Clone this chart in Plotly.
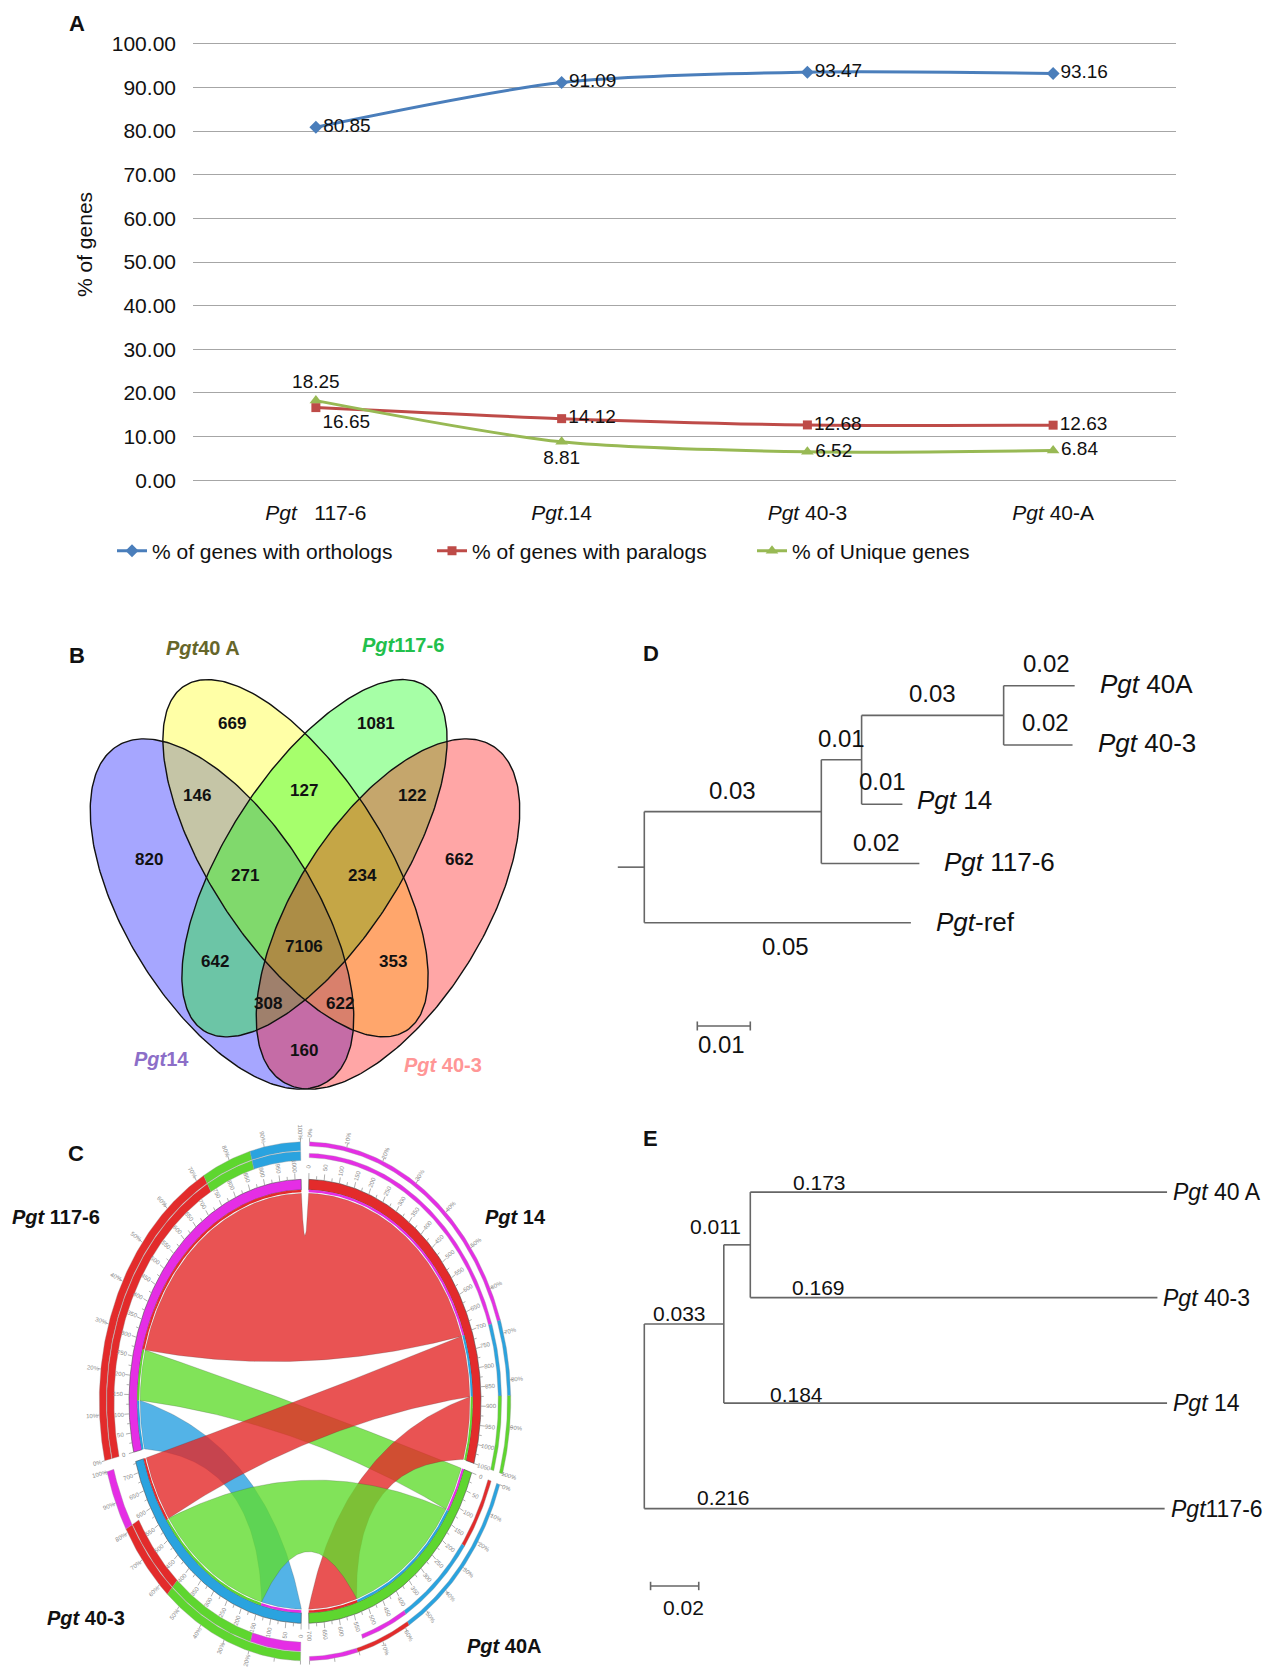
import numpy as np
import plotly.graph_objects as go

W, H = 1276, 1673
FONT = "Liberation Sans, Arial, sans-serif"
NARROW = "Liberation Sans Narrow, Liberation Sans, Arial, sans-serif"


def fx(p):
    return p / W


def fy(p):
    return 1 - p / H


# ===================== DATA =====================
# Panel A
strains_A = ["Pgt 117-6", "Pgt 14", "Pgt 40-3", "Pgt 40-A"]
strain_labels_A = ["<i>Pgt</i>&nbsp;&nbsp; 117-6", "<i>Pgt</i>.14", "<i>Pgt</i> 40-3", "<i>Pgt</i> 40-A"]
pct_orthologs = [80.85, 91.09, 93.47, 93.16]
pct_paralogs = [16.65, 14.12, 12.68, 12.63]
pct_unique = [18.25, 8.81, 6.52, 6.84]
series_names_A = ["% of genes with orthologs", "% of genes with paralogs", "% of Unique genes"]
y_ticks_A = [0, 10, 20, 30, 40, 50, 60, 70, 80, 90, 100]

# Panel B (Venn)
venn_set_labels = ["<b><i>Pgt</i>14</b>", "<b><i>Pgt</i>40 A</b>", "<b><i>Pgt</i>117-6</b>", "<b><i>Pgt</i> 40-3</b>"]
venn_regions = ["14", "40A", "117-6", "40-3", "14&40A", "40A&117-6", "117-6&40-3",
                "14&40A&117-6", "40A&117-6&40-3", "all", "14&117-6", "40A&40-3",
                "14&117-6&40-3", "14&40A&40-3", "14&40-3"]
venn_counts = [820, 669, 1081, 662, 146, 127, 122, 271, 234, 7106, 642, 353, 308, 622, 160]

# Panel C (chord): link widths (deg of arc) listed clockwise inside each segment
chord_order = ["Pgt 14", "Pgt 40A", "Pgt 40-3", "Pgt 117-6"]
c14_partners = ["Pgt 117-6", "Pgt 40-3", "Pgt 40A"]
c14_sizes = [70.5, 17.0, 17.5]
c40A_partners = ["Pgt 117-6", "Pgt 40-3", "Pgt 14"]
c40A_sizes = [12.5, 40.5, 17.0]
c403_partners = ["Pgt 117-6", "Pgt 40A", "Pgt 14"]
c403_sizes = [14.0, 40.5, 18.5]
c1176_partners = ["Pgt 40-3", "Pgt 40A", "Pgt 14"]
c1176_sizes = [13.5, 14.0, 74.5]
# outer summary rings (partner, share in deg) clockwise
ring_out_14 = (["Pgt 117-6", "Pgt 40-3", "Pgt 40A"], [70.5, 17.0, 17.5])
ring_in_14 = (["Pgt 117-6", "Pgt 40-3", "Pgt 40A"], [70.5, 17.0, 17.5])
ring_out_40A = (["Pgt 40-3", "Pgt 14", "Pgt 117-6"], [40.85, 15.6, 13.55])
ring_in_40A = (["Pgt 14", "Pgt 40-3", "Pgt 117-6", None], [17.0, 23.4, 13.85, 15.75])
ring_out_403 = (["Pgt 40A", "Pgt 14", "Pgt 117-6"], [40.75, 18.5, 13.75])
ring_in_403 = (["Pgt 117-6", "Pgt 40A", "Pgt 14", None], [14.75, 26.0, 18.5, 13.75])
ring_out_1176 = (["Pgt 14", "Pgt 40A", "Pgt 40-3"], [73.75, 14.0, 14.25])
ring_in_1176 = (["Pgt 14", "Pgt 40A", "Pgt 40-3"], [73.75, 14.0, 14.25])

# Panel D tree
treeD_parent = ["root", "n1", "n2", "n3", "n3", "n2", "n1", "root"]
treeD_child = ["n1", "n2", "n3", "Pgt 40A", "Pgt 40-3", "Pgt 14", "Pgt 117-6", "Pgt-ref"]
treeD_length = [0.0334, 0.0076, 0.0268, 0.0134, 0.0130, 0.0077, 0.0185, 0.0503]
treeD_label = ["0.03", "0.01", "0.03", "0.02", "0.02", "0.01", "0.02", "0.05"]
treeD_tips = ["Pgt 40A", "Pgt 40-3", "Pgt 14", "Pgt 117-6", "Pgt-ref"]
treeD_tiptext = ["<i>Pgt</i> 40A", "<i>Pgt</i> 40-3", "<i>Pgt</i> 14", "<i>Pgt</i> 117-6", "<i>Pgt</i>-ref"]

# Panel E tree
treeE_parent = ["root", "n1", "n2", "n2", "n1", "root"]
treeE_child = ["n1", "n2", "Pgt 40 A", "Pgt 40-3", "Pgt 14", "Pgt117-6"]
treeE_length = [0.033, 0.011, 0.173, 0.169, 0.184, 0.216]
treeE_tips = ["Pgt 40 A", "Pgt 40-3", "Pgt 14", "Pgt117-6"]
treeE_tiptext = ["<i>Pgt</i> 40 A", "<i>Pgt</i> 40-3", "<i>Pgt</i> 14", "<i>Pgt</i>117-6"]

# ===================== FIGURE =====================
fig = go.Figure()
annotations = []


def ann(**kw):
    kw.setdefault("showarrow", False)
    kw.setdefault("xanchor", "center")
    kw.setdefault("yanchor", "middle")
    annotations.append(kw)


# ---------- Panel A ----------
colors_A = ["#4A7EBB", "#BE4B48", "#98B954"]
symbols_A = ["diamond", "square", "triangle-up"]
msize_A = [10, 9, 11]
textpos_A = [
    ["middle right"] * 4,
    ["bottom right", "middle right", "middle right", "middle right"],
    ["top center", "bottom center", "middle right", "middle right"],
]
for vals, col, sym, ms, tp in zip([pct_orthologs, pct_paralogs, pct_unique], colors_A, symbols_A, msize_A, textpos_A):
    fig.add_trace(go.Scatter(
        x=strains_A, y=vals, mode="lines+markers+text",
        text=[f"{v:.2f}" for v in vals], textposition=tp,
        textfont=dict(size=19, color="#111", family=FONT),
        line=dict(color=col, width=3, shape="spline", smoothing=0.8),
        marker=dict(symbol=sym, size=ms, color=col),
        showlegend=False, cliponaxis=False, hoverinfo="skip", xaxis="x", yaxis="y"))
for name, col, sym, ms in zip(series_names_A, colors_A, symbols_A, msize_A):
    fig.add_trace(go.Scatter(
        x=[None], y=[None], mode="lines+markers", name=name,
        line=dict(color=col, width=3), marker=dict(symbol=sym, size=ms, color=col),
        xaxis="x", yaxis="y"))

ann(text="% of genes", x=fx(84), y=fy(245), xref="paper", yref="paper",
    textangle=-90, font=dict(size=21, color="#111"))

# ---------- Panel B : Venn ----------
venn_ellipses = [(222.0, 914.0, 198.0, 94.0, 58.0),
                 (295.5, 858.2, 205.0, 86.5, 57.25),
                 (314.5, 858.2, 205.0, 86.5, 122.75),
                 (388.0, 914.0, 198.0, 94.0, 122.0)]
venn_fills = ["rgba(0,0,255,0.35)", "rgba(255,255,0,0.35)", "rgba(0,255,0,0.35)", "rgba(255,0,0,0.35)"]


def ellipse_pts(cx, cy, a, b, phi, n=300):
    t = np.linspace(0, 2 * np.pi, n)
    ph = np.radians(phi)
    x = cx + a * np.cos(t) * np.cos(ph) - b * np.sin(t) * np.sin(ph)
    y = cy + a * np.cos(t) * np.sin(ph) + b * np.sin(t) * np.cos(ph)
    return x, y


for (cx, cy, a, b, phi), fc in zip(venn_ellipses, venn_fills):
    ex, ey = ellipse_pts(cx, cy, a, b, phi)
    fig.add_trace(go.Scatter(x=ex, y=ey, mode="lines", fill="toself", fillcolor=fc,
                             line=dict(width=0, color="rgba(0,0,0,0)"), showlegend=False,
                             hoverinfo="skip", xaxis="x2", yaxis="y2"))
for (cx, cy, a, b, phi) in venn_ellipses:
    ex, ey = ellipse_pts(cx, cy, a, b, phi)
    fig.add_trace(go.Scatter(x=ex, y=ey, mode="lines", line=dict(width=1.4, color="#111"),
                             showlegend=False, hoverinfo="skip", xaxis="x2", yaxis="y2"))

venn_label_pos = [(149.3, 859.3), (232.3, 723.3), (375.7, 723.3), (459.0, 859.3),
                  (197.3, 795.0), (304.3, 790.0), (411.7, 795.0), (245.3, 875.0),
                  (362.3, 875.0), (304.3, 946.0), (215.0, 961.7), (393.3, 961.7),
                  (268.3, 1003.3), (340.0, 1003.3), (304.3, 1050.0)]
for cnt, (lx, ly) in zip(venn_counts, venn_label_pos):
    ann(text=f"<b>{cnt}</b>", x=lx, y=ly, xref="x2", yref="y2",
        font=dict(size=17, family=NARROW, color="#111"))
venn_set_pos = [(161.7, 1059.3), (203.3, 648.3), (403.3, 645.0), (443.3, 1065.0)]
venn_set_colors = ["#8C6EC8", "#66662A", "#22C04C", "#FF9696"]
for lab, (lx, ly), col in zip(venn_set_labels, venn_set_pos, venn_set_colors):
    ann(text=lab, x=lx, y=ly, xref="x2", yref="y2", font=dict(size=20, color=col))

# ---------- Panel C : chord ----------
CX, CY, RX, RY = 305.0, 1401.3, 176.0, 222.0
GAP = 2.5
seg_color = {"Pgt 14": "#E32B2B", "Pgt 40A": "#5ED62F", "Pgt 40-3": "#2AA3DF", "Pgt 117-6": "#E52EE5"}
seg_rgb = {"Pgt 14": (228, 40, 40), "Pgt 40A": (98, 220, 48), "Pgt 40-3": (40, 160, 225), "Pgt 117-6": (229, 46, 229)}
priority = ["Pgt 14", "Pgt 40A", "Pgt 40-3", "Pgt 117-6"]
seg_links = {"Pgt 14": (c14_partners, c14_sizes), "Pgt 40A": (c40A_partners, c40A_sizes),
             "Pgt 40-3": (c403_partners, c403_sizes), "Pgt 117-6": (c1176_partners, c1176_sizes)}
seg_rings = {"Pgt 14": (ring_out_14, ring_in_14), "Pgt 40A": (ring_out_40A, ring_in_40A),
             "Pgt 40-3": (ring_out_403, ring_in_403), "Pgt 117-6": (ring_out_1176, ring_in_1176)}
thin_rings = [(1.150, 1.169), (1.098, 1.117)]
thick_rings = [(1.129, 1.169), (1.085, 1.126)]
seg_ring_radii = {"Pgt 14": thin_rings, "Pgt 40A": thin_rings, "Pgt 40-3": thick_rings, "Pgt 117-6": thick_rings}

seg_start, seg_end = {}, {}
cur = 90 - GAP / 2
for s in chord_order:
    seg_start[s] = cur
    cur -= sum(seg_links[s][1])
    seg_end[s] = cur
    cur -= GAP

link_arc = {}
for s in chord_order:
    p_list, sz = seg_links[s]
    a = seg_start[s]
    for p, w in zip(p_list, sz):
        link_arc[(s, p)] = (a - w, a)
        a -= w


def epx(theta, r):
    t = np.radians(theta)
    return CX + r * RX * np.cos(t), CY - r * RY * np.sin(t)


def arc_xy(t1, t2, r, n=None):
    n = n or max(4, int(abs(t2 - t1) * 2))
    th = np.radians(np.linspace(t1, t2, n))
    return list(r * np.cos(th)), list(r * np.sin(th))


def bez_xy(a, b, r, n=80):
    p0 = np.array([r * np.cos(np.radians(a)), r * np.sin(np.radians(a))])
    p2 = np.array([r * np.cos(np.radians(b)), r * np.sin(np.radians(b))])
    d = abs((b - a + 180) % 360 - 180)
    mid = p0 + p2
    nm = np.linalg.norm(mid)
    f = 0.6 * (1 - d / 180)
    c = mid / nm * f * r if nm > 1e-9 else np.zeros(2)
    t = np.linspace(0, 1, n)[:, None]
    pts = (1 - t) ** 2 * p0 + 2 * (1 - t) * t * c + t ** 2 * p2
    return list(pts[:, 0]), list(pts[:, 1])


def to_px(ux, uy):
    return [CX + x * RX for x in ux], [CY - y * RY for y in uy]


def sector(t1, t2, r1, r2):
    ox, oy = arc_xy(t1, t2, r2)
    ix, iy = arc_xy(t2, t1, r1)
    return to_px(ox + ix + [ox[0]], oy + iy + [oy[0]])


def add_poly(xs, ys, color, line=None):
    fig.add_trace(go.Scatter(x=xs, y=ys, mode="lines", fill="toself", fillcolor=color,
                             line=line or dict(width=0, color="rgba(0,0,0,0)"),
                             showlegend=False, hoverinfo="skip", xaxis="x2", yaxis="y2"))


R_RIB = 0.937
ribbon_pairs = [("Pgt 117-6", "Pgt 40-3"), ("Pgt 117-6", "Pgt 40A"), ("Pgt 14", "Pgt 117-6"),
                ("Pgt 14", "Pgt 40-3"), ("Pgt 14", "Pgt 40A"), ("Pgt 40-3", "Pgt 40A")]
for s, p in ribbon_pairs:
    a0, a1 = link_arc[(s, p)]
    b0, b1 = link_arc[(p, s)]
    a_lo = a0 % 360
    a_hi = a_lo + (a1 - a0)
    b_lo = b0 % 360
    while b_lo < a_hi:
        b_lo += 360
    b_hi = b_lo + (b1 - b0)
    x1, y1 = arc_xy(a_lo, a_hi, R_RIB)
    x2, y2 = bez_xy(a_hi, b_lo, R_RIB)
    x3, y3 = arc_xy(b_lo, b_hi, R_RIB)
    x4, y4 = bez_xy(b_hi, a_lo + 360, R_RIB)
    xs, ys = to_px(x1 + x2 + x3 + x4, y1 + y2 + y3 + y4)
    col = s if priority.index(s) < priority.index(p) else p
    r_, g_, b_ = seg_rgb[col]
    add_poly(xs, ys, f"rgba({r_},{g_},{b_},0.8)", dict(width=0.6, color="rgba(60,60,60,0.35)"))

# ideogram + caps
for s in chord_order:
    xs, ys = sector(seg_end[s], seg_start[s], 0.953, 1.0)
    add_poly(xs, ys, seg_color[s], dict(width=0.7, color="rgba(70,70,70,0.8)"))
    for p in seg_links[s][0]:
        lo, hi = link_arc[(s, p)]
        xs, ys = sector(lo, hi, 0.942, 0.953)
        add_poly(xs, ys, seg_color[p])

# outer rings
for s in chord_order:
    for (plist, sizes), (r1, r2) in zip(seg_rings[s], seg_ring_radii[s]):
        a = seg_start[s]
        for p, w in zip(plist, sizes):
            if p is not None:
                xs, ys = sector(a - w, a, r1, r2)
                add_poly(xs, ys, seg_color[p], dict(width=0.5, color="rgba(150,150,150,0.7)"))
            a -= w


def radial_angle(theta):
    ang = -theta % 360
    if 90 < (theta % 360) < 270:
        ang = (180 - theta) % 360
    if ang > 180:
        ang -= 360
    return ang


# tick marks + tiny tick labels
tx, ty = [], []
for s in chord_order:
    th = seg_start[s]
    k = 0
    while th >= seg_end[s] - 1e-6:
        r2 = 1.028 if k % 2 == 0 else 1.016
        x0, y0 = epx(th, 1.0)
        x1_, y1_ = epx(th, r2)
        tx += [x0, x1_, None]
        ty += [y0, y1_, None]
        if k % 2 == 0:
            lx_, ly_ = epx(th, 1.058)
            ann(text=str(k * 25), x=lx_, y=ly_, xref="x2", yref="y2",
                textangle=radial_angle(th), font=dict(size=6, color="#8a8a8a"))
        th -= 2.5
        k += 1
    span = seg_start[s] - seg_end[s]
    for i in range(11):
        th = seg_start[s] - span * i / 10
        x0, y0 = epx(th, 1.169)
        x1_, y1_ = epx(th, 1.186)
        tx += [x0, x1_, None]
        ty += [y0, y1_, None]
        lx_, ly_ = epx(th, 1.21)
        if ly_ < 1660:
            ann(text=f"{i * 10}%", x=lx_, y=ly_, xref="x2", yref="y2",
                textangle=radial_angle(th), font=dict(size=6, color="#8a8a8a"))
fig.add_trace(go.Scatter(x=tx, y=ty, mode="lines", line=dict(width=0.8, color="#9a9a9a"),
                         showlegend=False, hoverinfo="skip", xaxis="x2", yaxis="y2"))

chord_label_txt = ["<b><i>Pgt</i> 117-6</b>", "<b><i>Pgt</i> 14</b>", "<b><i>Pgt</i> 40-3</b>", "<b><i>Pgt</i> 40A</b>"]
chord_label_pos = [(56.0, 1216.5, "center"), (483.3, 1217.3, "left"), (126.7, 1617.5, "right"), (465.0, 1646.0, "left")]
for t, (lx, ly, xa) in zip(chord_label_txt, chord_label_pos):
    ann(text=t, x=lx, y=ly, xref="x2", yref="y2", xanchor=xa, font=dict(size=20, color="#111"))


# ---------- Trees ----------
def layout_tree(parents, children, lengths, tips):
    x = {"root": 0.0}
    nodes = set(parents) | set(children)
    while len(x) < len(nodes):
        for p, c, l in zip(parents, children, lengths):
            if p in x and c not in x:
                x[c] = x[p] + l
    y = {t: float(i) for i, t in enumerate(tips)}
    kids = {}
    for p, c in zip(parents, children):
        kids.setdefault(p, []).append(c)

    def gety(n):
        if n not in y:
            ys = [gety(k) for k in kids[n]]
            y[n] = (min(ys) + max(ys)) / 2
        return y[n]

    gety("root")
    return x, y, kids


def tree_lines(parents, children, x, y, kids):
    lx, ly = [], []
    for p, c in zip(parents, children):
        lx += [x[p], x[c], None]
        ly += [y[c], y[c], None]
    for n, ks in kids.items():
        ys = [y[k] for k in ks]
        lx += [x[n], x[n], None]
        ly += [min(ys), max(ys), None]
    return lx, ly


TREE_COL = "#666666"
# D
xD, yD, kD = layout_tree(treeD_parent, treeD_child, treeD_length, treeD_tips)
lx, ly = tree_lines(treeD_parent, treeD_child, xD, yD, kD)
lx += [-0.005, 0.0, None]
ly += [yD["root"], yD["root"], None]
sbD_y = 5.743
lx += [0.01, 0.02, None, 0.01, 0.01, None, 0.02, 0.02, None]
ly += [sbD_y, sbD_y, None, sbD_y - 0.076, sbD_y + 0.076, None, sbD_y - 0.076, sbD_y + 0.076, None]
fig.add_trace(go.Scatter(x=lx, y=ly, mode="lines", line=dict(width=1.6, color=TREE_COL),
                         showlegend=False, hoverinfo="skip", xaxis="x3", yaxis="y3"))
D_label_yshift = [21, 21, 22, 22, 22, 23, 21, -24]
D_label_xshift = [0, 0, 0, 7, 7, 0, 6, 8]
for p, c, lab, ys_, xs_ in zip(treeD_parent, treeD_child, treeD_label, D_label_yshift, D_label_xshift):
    ann(text=lab, x=(xD[p] + xD[c]) / 2, y=yD[c], xref="x3", yref="y3",
        yshift=ys_, xshift=xs_, font=dict(size=24, family=NARROW, color="#111"))
D_tip_xshift = [23, 23, 13, 23, 23]
D_tip_yshift = [2, 2, 4, 1, 1]
for t, tt, xs_, ys_ in zip(treeD_tips, treeD_tiptext, D_tip_xshift, D_tip_yshift):
    ann(text=tt, x=xD[t], y=yD[t], xref="x3", yref="y3", xanchor="left",
        xshift=xs_, yshift=ys_, font=dict(size=26, color="#111"))
ann(text="0.01", x=0.015, y=6.064, xref="x3", yref="y3", xshift=-2,
    font=dict(size=24, family=NARROW, color="#111"))

# E
xE, yE, kE = layout_tree(treeE_parent, treeE_child, treeE_length, treeE_tips)
lx, ly = tree_lines(treeE_parent, treeE_child, xE, yE, kE)
sbE_y = 3.7336
lx += [0.0026, 0.0226, None, 0.0026, 0.0026, None, 0.0226, 0.0226, None]
ly += [sbE_y, sbE_y, None, sbE_y - 0.04, sbE_y + 0.04, None, sbE_y - 0.04, sbE_y + 0.04, None]
fig.add_trace(go.Scatter(x=lx, y=ly, mode="lines", line=dict(width=1.6, color=TREE_COL),
                         showlegend=False, hoverinfo="skip", xaxis="x4", yaxis="y4"))
E_label_xshift = [35.5, -8.4, 69, 67.8, 72.8, 79.5]
E_label_yshift = [10, 18, 10, 10, 9, 11]
for p, c, L, xs_, ys_ in zip(treeE_parent, treeE_child, treeE_length, E_label_xshift, E_label_yshift):
    ann(text=f"{L:.3f}", x=xE[p], y=yE[c], xref="x4", yref="y4",
        xshift=xs_, yshift=ys_, font=dict(size=21, color="#111"))
for t, tt in zip(treeE_tips, treeE_tiptext):
    ann(text=tt, x=xE[t], y=yE[t], xref="x4", yref="y4", xanchor="left",
        xshift=4, font=dict(size=23, color="#111"))
ann(text="0.02", x=0.0126, y=3.9346, xref="x4", yref="y4", xshift=9,
    font=dict(size=21, color="#111"))

# panel letters
for L, (lx_, ly_) in zip("ABCDE", [(76.5, 23.4), (76.7, 655.0), (75.5, 1153.0), (651.4, 653.3), (650.1, 1138.4)]):
    ann(text=f"<b>{L}</b>", x=fx(lx_), y=fy(ly_), xref="paper", yref="paper",
        font=dict(size=22, color="#111"))


def dom_x(p0, p1):
    return [fx(p0), fx(p1)]


def dom_y(p0, p1):
    return [fy(p1), fy(p0)]


hidden = dict(visible=False, fixedrange=True, showgrid=False, zeroline=False, automargin=False)
PADY = 0.35  # keep 0 and 100 grid lines strictly inside the range
pxu = (480.3 - 43.7) / 100.0
fig.update_layout(
    width=W, height=H, margin=dict(l=0, r=0, t=0, b=0, autoexpand=False),
    paper_bgcolor="white", plot_bgcolor="rgba(0,0,0,0)",
    font=dict(family=FONT, color="#111"),
    showlegend=True,
    legend=dict(orientation="h", x=fx(112), y=fy(551), xanchor="left", yanchor="middle",
                font=dict(size=21, color="#111"), entrywidth=275, entrywidthmode="pixels",
                itemwidth=30, bgcolor="rgba(0,0,0,0)", traceorder="normal"),
    xaxis=dict(domain=dom_x(193, 1176), type="category", range=[-0.5, 3.5],
               tickvals=strains_A, ticktext=strain_labels_A, tickfont=dict(size=21, color="#111"),
               showgrid=False, zeroline=False, showline=False, ticks="", ticklabelstandoff=16,
               anchor="y", fixedrange=True, automargin=False),
    yaxis=dict(domain=dom_y(43.7 - PADY * pxu, 480.3 + PADY * pxu), range=[-PADY, 100 + PADY],
               tickvals=y_ticks_A,
               ticktext=[f"{v:.2f}" for v in y_ticks_A], tickfont=dict(size=21, color="#111"),
               showgrid=True, gridcolor="#A6A6A6", gridwidth=1.3, zeroline=False, showline=False,
               ticks="", ticklabelstandoff=16, anchor="x", fixedrange=True, automargin=False),
    xaxis2=dict(domain=[0, 1], range=[0, W], anchor="y2", **hidden),
    yaxis2=dict(domain=[0, 1], range=[H, 0], anchor="x2", **hidden),
    xaxis3=dict(domain=dom_x(600, 1240), range=[(600 - 644.3) / 5300, (1240 - 644.3) / 5300], anchor="y3", **hidden),
    yaxis3=dict(domain=dom_y(640, 1070), range=[(1070 - 685.7) / 59.25, (640 - 685.7) / 59.25], anchor="x3", **hidden),
    xaxis4=dict(domain=dom_x(600, 1276), range=[(600 - 644.3) / 2409, (1276 - 644.3) / 2409], anchor="y4", **hidden),
    yaxis4=dict(domain=dom_y(1150, 1640), range=[(1640 - 1192.1) / 105.5, (1150 - 1192.1) / 105.5], anchor="x4", **hidden),
    annotations=annotations,
)

fig.write_html("out.html")
